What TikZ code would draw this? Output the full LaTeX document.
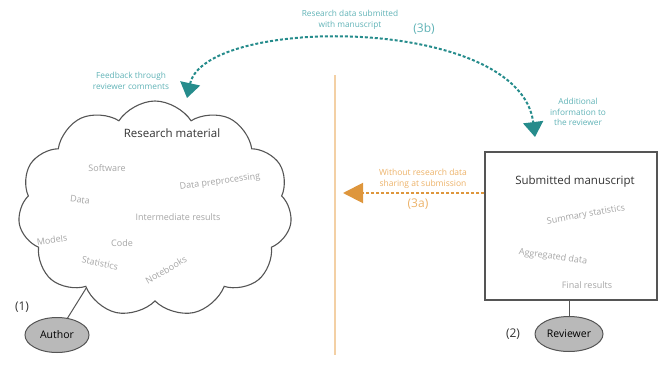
\documentclass[tikz,border=0pt]{standalone}
\usepackage{fontspec}
\setmainfont{Open Sans}
\usetikzlibrary{shapes.symbols,shapes.geometric,arrows.meta}

\definecolor{tealarc}{RGB}{38,140,140}
\definecolor{teallab}{RGB}{95,178,182}
\definecolor{orgarr}{RGB}{222,150,60}
\definecolor{orglab}{RGB}{236,178,105}
\definecolor{orgline}{RGB}{243,208,165}
\definecolor{edgegray}{RGB}{85,85,85}
\definecolor{wordgray}{RGB}{165,165,165}

\begin{document}
\begin{tikzpicture}[x=1pt,y=-1pt,
  word/.style={text=wordgray,font=\fontsize{9}{10}\selectfont,inner sep=1pt},
  head/.style={text=black!80,font=\fontsize{11.5}{13}\selectfont},
  tlab/.style={text=teallab,font=\fontsize{8.3}{10.5}\selectfont,align=center},
  olab/.style={text=orglab,font=\fontsize{8.5}{10.5}\selectfont,align=center},
  num/.style={text=black!80,font=\fontsize{12}{13}\selectfont},
  person/.style={ellipse,draw=edgegray,line width=1pt,fill=gray!55,inner sep=1pt,
    minimum width=64pt,minimum height=35pt,font=\fontsize{10.5}{12}\selectfont},
  bigtri/.tip={Triangle[width=20pt,length=15pt]}]
  \useasboundingbox (0,0) rectangle (660,369);

  % research material (author side)
  \node[cloud,cloud puffs=11,cloud puff arc=115,draw=edgegray,line width=1.1pt,
    minimum width=274pt,minimum height=216pt] (cloud) at (155,209) {};
  \node[head] (rm) at (172,133) {Research material};
  \foreach \w/\x/\y/\a [count=\i] in {Software/107/168/0,
      Data preprocessing/220/182/8, Data/80/200/-8,
      Intermediate results/178/217/0, Models/52/240/8, Code/122/243/0,
      Statistics/100/263/-12, Notebooks/166/270/30}
    \node[word,rotate=\a] (cw\i) at (\x,\y) {\w};
  \node[person] (author) at (57,335) {Author};
  \node[num] (n1) at (22,307) {(1)};
  \draw[edgegray,line width=1pt] (author) -- (cloud.229);

  % submitted manuscript (reviewer side)
  \node[draw=edgegray,line width=1.2pt,minimum width=172pt,minimum height=148pt]
    (box) at (571,226) {};
  \node[head] (sm) at (575,182) {Submitted manuscript};
  \foreach \w/\x/\y/\a [count=\i] in {Summary statistics/586/215/10,
      Aggregated data/553/257/-8, Final results/587/285/0}
    \node[word,rotate=\a] (bw\i) at (\x,\y) {\w};
  \node[person,minimum width=68pt] (reviewer) at (569,334) {Reviewer};
  \node[num] (n2) at (513,334) {(2)};
  \draw[edgegray,line width=1pt] (box.south -| reviewer) -- (reviewer);

  % separation
  \draw[orgline,line width=1.5pt] (335,75) -- (335,355);

  % (3a)
  \coordinate (oa) at (343,193);
  \draw[orgarr,line width=2pt,dash pattern=on 3pt off 2pt,
    -{Triangle[width=20pt,length=20pt]}] (box.west |- oa) -- (oa);
  \node[olab] (wo) at (423,179) {Without research data\\sharing at submission};
  \node[num,text=orglab] (l3a) at (418,204) {(3a)};

  % (3b)
  \coordinate (fb) at (187,98);
  \coordinate (ai) at (535,137);
  \draw[tealarc,line width=2pt,dash pattern=on 3pt off 2pt,bigtri-bigtri]
    (fb) .. controls (205,15) and (520,15) .. (ai);
  \node[tlab] (sub) at (350,20) {Research data submitted\\with manuscript};
  \node[num,text=teallab] (l3b) at (424,29) {(3b)};
  \node[tlab] (fbl) at (131,81) {Feedback through\\reviewer comments};
  \node[tlab] (ail) at (578,112) {Additional\\information to\\the reviewer};
\end{tikzpicture}
\end{document}
